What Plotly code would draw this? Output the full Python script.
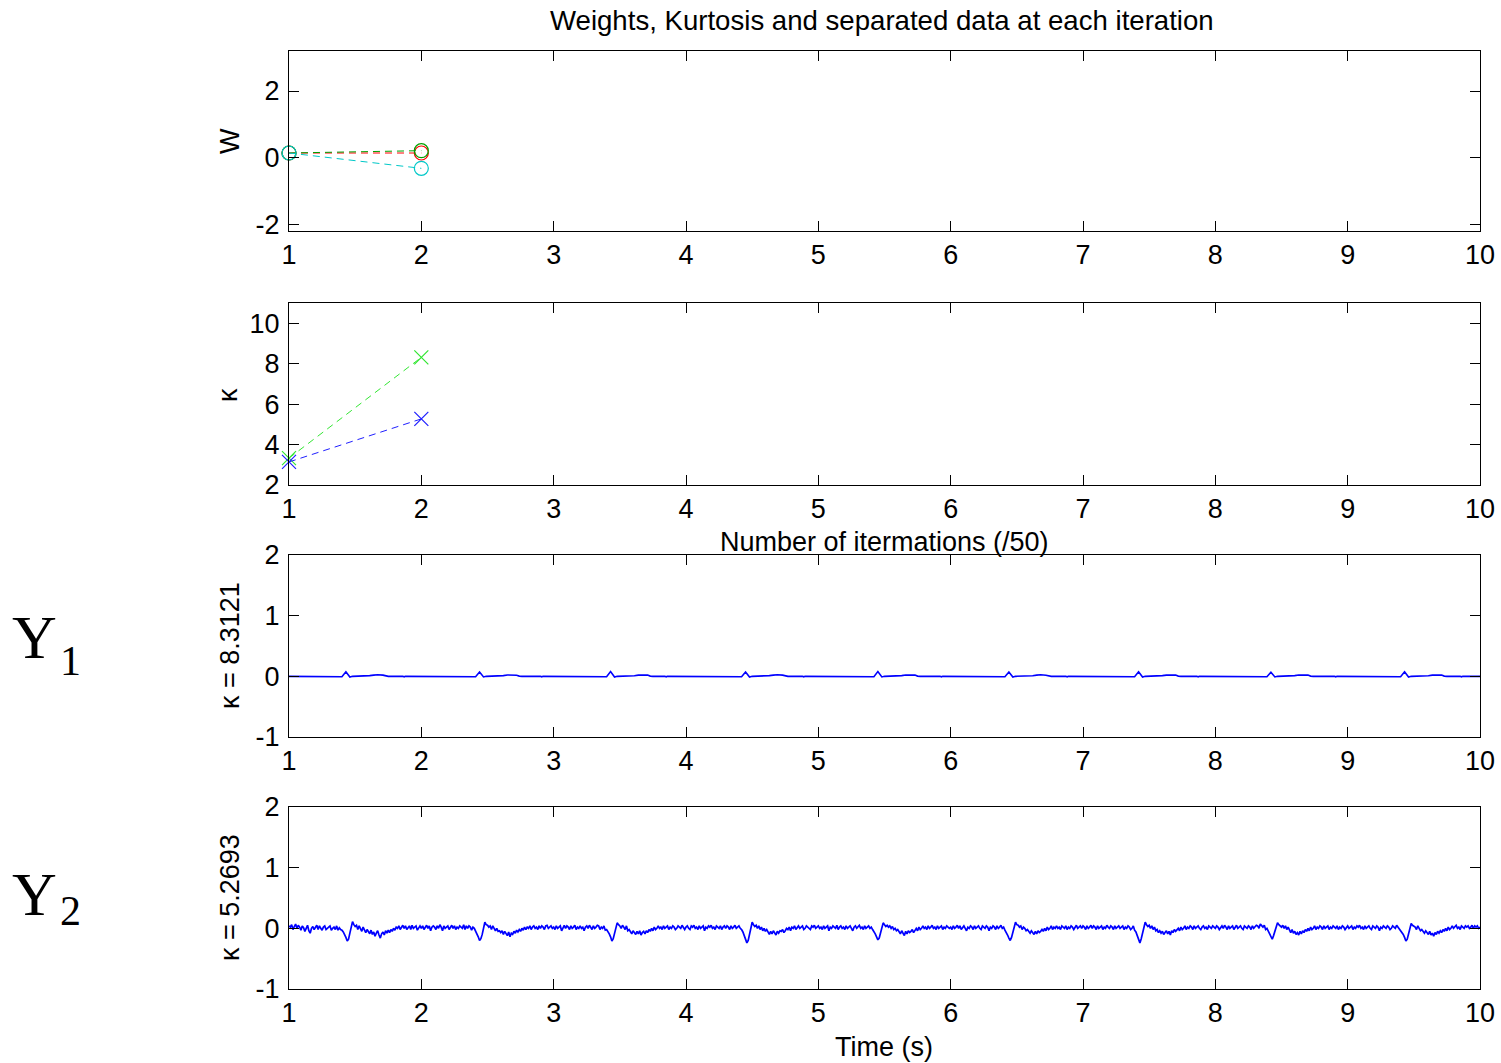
import numpy as np
import plotly.graph_objects as go

# ---------------- data ----------------
iters = [1, 2]
x_ticks = [1, 2, 3, 4, 5, 6, 7, 8, 9, 10]

# separating weights per iteration
w_red = [0.14, 0.14]
w_green = [0.14, 0.21]
w_cyan = [0.14, -0.32]

# kurtosis per iteration
kurt_green = [3.33, 8.3121]
kurt_blue = [3.14, 5.2693]

# separated source Y1 (breakpoints: time in s, amplitude)
y1_t = [1.00,
        1.08, 1.09, 1.10, 1.30, 1.31, 1.32, 1.38, 1.40, 1.43, 1.46, 1.48, 1.60, 1.61, 1.64, 1.67, 1.71, 1.73, 1.75, 1.86, 1.87, 1.88,
        2.06, 2.07, 2.08, 2.30, 2.31, 2.32, 2.39, 2.41, 2.44, 2.47, 2.49, 2.61, 2.62, 2.65, 2.68, 2.72, 2.74, 2.76, 2.90, 2.91, 2.92,
        3.10, 3.11, 3.12, 3.28, 3.29, 3.30, 3.38, 3.40, 3.43, 3.46, 3.48, 3.60, 3.61, 3.64, 3.67, 3.71, 3.73, 3.75, 3.84, 3.85, 3.86,
        4.05, 4.06, 4.07, 4.32, 4.33, 4.34, 4.40, 4.42, 4.45, 4.48, 4.50, 4.62, 4.63, 4.66, 4.69, 4.73, 4.75, 4.77, 4.88, 4.89, 4.90,
        5.12, 5.13, 5.14, 5.30, 5.31, 5.32, 5.40, 5.42, 5.45, 5.48, 5.50, 5.62, 5.63, 5.66, 5.69, 5.73, 5.75, 5.77, 5.92, 5.93, 5.94,
        6.08, 6.09, 6.10, 6.27, 6.28, 6.29, 6.39, 6.41, 6.44, 6.47, 6.49, 6.61, 6.62, 6.65, 6.68, 6.72, 6.74, 6.76, 6.87, 6.88, 6.89,
        7.04, 7.05, 7.06, 7.29, 7.30, 7.31, 7.37, 7.39, 7.42, 7.45, 7.47, 7.59, 7.60, 7.63, 7.66, 7.70, 7.72, 7.74, 7.86, 7.87, 7.88,
        8.10, 8.11, 8.12, 8.26, 8.27, 8.28, 8.37, 8.39, 8.42, 8.45, 8.47, 8.59, 8.60, 8.63, 8.66, 8.70, 8.72, 8.74, 8.90, 8.91, 8.92,
        9.07, 9.08, 9.09, 9.31, 9.32, 9.33, 9.38, 9.40, 9.43, 9.46, 9.48, 9.60, 9.61, 9.64, 9.67, 9.71, 9.73, 9.75, 9.85, 9.86, 9.87,
        10.00]
y1_v = [0.0,
        0, -.008, 0, 0, -.008, 0, 0, -.006, .075, -.012, 0, 0, .012, .020, .026, .020, .004, 0, 0, -.008, 0,
        0, -.008, 0, 0, -.008, 0, 0, -.006, .070, -.010, 0, 0, .012, .022, .024, .018, .004, 0, 0, -.008, 0,
        0, -.008, 0, 0, -.008, 0, 0, -.006, .080, -.012, 0, 0, .010, .020, .025, .020, .004, 0, 0, -.008, 0,
        0, -.008, 0, 0, -.008, 0, 0, -.006, .072, -.012, 0, 0, .012, .020, .026, .020, .004, 0, 0, -.008, 0,
        0, -.008, 0, 0, -.008, 0, 0, -.006, .078, -.010, 0, 0, .012, .022, .024, .020, .004, 0, 0, -.008, 0,
        0, -.008, 0, 0, -.008, 0, 0, -.006, .070, -.012, 0, 0, .010, .020, .026, .018, .004, 0, 0, -.008, 0,
        0, -.008, 0, 0, -.008, 0, 0, -.006, .074, -.012, 0, 0, .012, .020, .025, .020, .004, 0, 0, -.008, 0,
        0, -.008, 0, 0, -.008, 0, 0, -.006, .068, -.010, 0, 0, .012, .022, .026, .020, .004, 0, 0, -.008, 0,
        0, -.008, 0, 0, -.008, 0, 0, -.006, .076, -.012, 0, 0, .010, .020, .024, .020, .004, 0, 0, -.008, 0,
        0.0]

# separated source Y2, sampled every 10 ms, one list per second
y2_sec1 = [.04, .02, .06, -.02, .03, .07, .00, .05, .02, -.03, .04, .01, -.05, .02, .05, -.04, -.08, .00, .03, -.02,
           .02, .05, -.02, .04, .00, -.03, .02, .04, -.02, .01, .02, .04, -.03, .00, .02, -.02, .04, -.03, .01, -.02,
           -.03, -.06, -.10, -.15, -.21, -.18, -.08, .05, .11, .06, .03, .05, -.02, .04, .00, -.05, .02, -.04, -.07, -.02,
           -.05, -.09, -.03, -.10, -.06, -.13, -.08, -.04, -.11, -.16, -.09, -.06, -.11, -.04, -.08, -.03, -.07, -.02, -.05, .00,
           -.03, .02, .00, .04, -.02, .02, .05, .00, .04, -.02, .02, .04, -.02, .05, .00, .02, .04, -.03, .02, .04]
y2_sec2 = [.00, .04, -.02, .02, .05, .00, .04, -.04, .02, .04, .02, -.02, .04, .00, .06, .02, -.04, .04, .00, .02,
           .04, -.02, .02, .05, .00, .04, -.02, .02, .00, .04, .02, .00, .06, -.02, .04, .00, .04, .02, -.03, .02,
           .00, -.04, -.08, -.14, -.20, -.17, -.10, .02, .10, .06, .05, .02, .04, -.02, .04, .00, -.04, .00, -.05, -.04,
           -.07, -.04, -.10, -.05, -.08, -.12, -.06, -.14, -.08, -.10, -.05, -.08, -.03, -.06, -.02, -.05, .00, -.03, .02, -.02,
           .02, .00, .04, -.02, .02, .04, .00, .02, -.02, .04, .00, .04, .02, -.02, .04, .05, .00, .02, .04, .00]
y2_sec3 = [.02, -.02, .04, .00, .02, .04, -.04, .02, .05, .00, .04, .02, -.02, .04, .00, .02, .05, -.02, .02, .00,
           .04, .00, .02, -.04, .02, .04, .00, .05, .02, -.02, .04, .00, .02, .05, .04, -.02, .02, .00, .04, -.03,
           -.02, -.05, -.09, -.14, -.21, -.17, -.08, .03, .09, .06, .04, .00, .05, .02, -.02, .04, -.04, -.02, -.06, -.09,
           -.04, -.07, -.10, -.05, -.09, -.04, -.11, -.07, -.05, -.09, -.04, -.07, -.02, -.05, .00, -.04, .02, -.02, .00, .04,
           .00, .02, -.02, .04, .00, .02, .04, -.02, .02, .00, .04, .02, -.02, .00, .04, .02, .00, .05, .02, -.02]
y2_sec4 = [.02, .04, .00, -.02, .04, .02, .05, .00, .02, -.02, .04, .00, .02, .04, -.04, .02, .00, .04, .02, .05,
           .00, .02, -.02, .04, .02, .00, .04, -.02, .02, .04, .00, .04, .02, -.02, .04, .00, .02, .05, .00, .02,
           .04, .00, -.02, -.06, -.11, -.17, -.24, -.20, -.09, .04, .10, .06, .03, .05, .00, .04, -.02, .02, -.04, .00,
           -.05, -.02, -.07, -.10, -.05, -.09, -.04, -.07, -.11, -.05, -.08, -.04, -.05, -.02, -.07, -.04, .00, -.02, .02, -.04,
           .02, .00, .04, -.02, .02, .04, .00, .02, .04, -.02, .00, .04, .02, .00, -.02, .04, .02, .05, .00, .02]
y2_sec5 = [.04, .00, .02, -.02, .04, .00, .02, .04, -.04, .02, .00, .04, .02, .00, .05, -.02, .02, .04, .00, .02,
           -.02, .04, .00, .02, .04, .00, -.04, .02, .04, .00, .02, .05, .00, .02, -.02, .04, .00, .02, .04, .00,
           .02, -.02, -.05, -.09, -.14, -.19, -.16, -.08, .03, .09, .06, .03, .05, .02, .04, .00, .03, -.02, .00, -.04,
           -.02, -.05, -.09, -.04, -.07, -.12, -.05, -.09, -.04, -.07, -.05, -.02, -.07, -.04, .00, -.04, .02, -.02, .00, .04,
           .00, .02, -.02, .04, .00, .02, .05, .00, .02, -.02, .04, .00, .02, .04, -.02, .02, .00, .04, .02, .00]
y2_sec6 = [.02, -.02, .04, .00, .02, .05, .00, .04, -.02, .02, .04, .00, -.04, .02, .00, .04, .02, -.02, .04, .00,
           .02, .04, .00, -.02, .04, .02, .00, .04, .02, -.04, .02, .00, .04, .02, -.02, .04, .00, .02, .05, .00,
           .02, -.03, -.06, -.11, -.16, -.20, -.15, -.06, .05, .10, .06, .05, .02, .04, -.02, .02, .00, -.04, -.02, -.05,
           -.08, -.04, -.07, -.10, -.05, -.09, -.04, -.07, -.05, -.02, -.05, .00, -.04, .02, -.02, .00, .04, -.02, .02, .00,
           .04, .00, .02, -.02, .04, .02, .00, .04, -.02, .02, .00, .04, .02, -.02, .02, .05, .00, .02, .04, .00]
y2_sec7 = [.04, .02, -.02, .04, .00, .02, .05, .00, .04, .02, -.02, .04, .00, .02, .04, -.02, .02, .00, .05, .02,
           .00, .04, .02, -.02, .04, .00, .02, .04, .00, .02, .04, -.02, .02, .00, .04, .02, -.02, .00, .04, -.03,
           -.06, -.12, -.19, -.24, -.17, -.07, .04, .10, .06, .03, .05, .00, .04, -.02, .02, -.04, -.02, -.07, -.04, -.08,
           -.05, -.10, -.07, -.04, -.09, -.05, -.11, -.04, -.07, -.02, -.05, -.02, .00, -.04, .02, -.02, .00, .04, -.02, .02,
           .00, .04, .02, -.02, .04, .00, .02, .04, .00, -.02, .02, .04, .00, .02, -.02, .04, .02, .00, .04, .02]
y2_sec8 = [.00, .04, .02, -.02, .02, .04, .00, .05, .02, -.02, .04, .00, .02, .04, -.02, .02, .05, .00, .02, .04,
           .00, -.02, .04, .02, .00, .04, .02, -.02, .04, .00, .02, .05, .04, .00, .07, .04, .02, .05, -.02, .00,
           -.05, -.11, -.13, -.18, -.12, -.05, .05, .09, .06, .03, .02, .05, .00, .04, -.02, .02, -.04, -.07, -.02, -.08,
           -.05, -.10, -.07, -.11, -.05, -.09, -.04, -.07, -.02, -.05, .00, -.04, .02, -.02, .00, .04, -.02, .02, .00, .04,
           .02, -.02, .04, .00, .02, .04, -.02, .02, .00, .04, .02, .00, .04, -.02, .02, .00, .04, .02, -.02, .02]
y2_sec9 = [.04, .00, .02, .04, -.02, .02, .00, .04, .02, .05, .00, .02, -.02, .04, .00, .02, .04, .00, -.02, .04,
           .02, .00, .04, .02, -.04, .02, .00, .04, .02, .00, .04, .02, -.02, .00, .04, .02, .00, .05, .02, .00,
           -.02, -.05, -.10, -.15, -.21, -.18, -.09, .03, .08, .05, .04, .02, -.02, .04, .00, -.04, -.02, -.05, -.08, -.04,
           -.07, -.10, -.05, -.11, -.08, -.13, -.07, -.10, -.05, -.08, -.04, -.07, -.02, -.05, .00, -.04, .02, -.02, .00, .04,
           .00, .02, .05, .00, .02, -.02, .04, .02, .00, .04, .02, .04, .00, .02, .05, .00, .04, .02, .04, .00]
y2_end = [.02]

y2_v = (y2_sec1 + y2_sec2 + y2_sec3 + y2_sec4 + y2_sec5 + y2_sec6
        + y2_sec7 + y2_sec8 + y2_sec9 + y2_end)
fs = 100.0  # samples per second
y2_t = 1.0 + np.arange(len(y2_v)) / fs

# ---------------- figure ----------------
W, H = 1501, 1063
FONT = "Liberation Sans, Arial, Helvetica, sans-serif"
FS = 27


def px(x):
    return x / W


def py(y):
    return 1 - y / H


x_dom = [px(289), px(1480)]
y_doms = [[py(231), py(51)], [py(485), py(303)], [py(737), py(555)], [py(989), py(807)]]
y_ranges = [[-2.2, 3.2], [2, 11], [-1, 2], [-1, 2]]
y_tickvals = [[-2, 0, 2], [2, 4, 6, 8, 10], [-1, 0, 1, 2], [-1, 0, 1, 2]]

fig = go.Figure()

dash = "7px,5px"
# weights
fig.add_trace(go.Scatter(x=iters, y=w_red, mode="lines+markers", cliponaxis=False,
                         line=dict(color="#FF0000", width=1, dash=dash),
                         marker=dict(symbol="circle-open", size=14, color="#FF0000", line=dict(width=1.2)),
                         xaxis="x", yaxis="y"))
fig.add_trace(go.Scatter(x=iters, y=w_green, mode="lines+markers", cliponaxis=False,
                         line=dict(color="#00A000", width=1, dash=dash),
                         marker=dict(symbol="circle-open", size=14, color="#00A000", line=dict(width=1.2)),
                         xaxis="x", yaxis="y"))
fig.add_trace(go.Scatter(x=iters, y=w_cyan, mode="lines+markers", cliponaxis=False,
                         line=dict(color="#00C8C8", width=1, dash=dash),
                         marker=dict(symbol="circle-open", size=14, color="#00C8C8", line=dict(width=1.2)),
                         xaxis="x", yaxis="y"))

# kurtosis
fig.add_trace(go.Scatter(x=iters, y=kurt_green, mode="lines+markers", cliponaxis=False,
                         line=dict(color="#33E633", width=1, dash=dash),
                         marker=dict(symbol="x-thin-open", size=14, color="#33E633", line=dict(width=1.2, color="#33E633")),
                         xaxis="x2", yaxis="y2"))
fig.add_trace(go.Scatter(x=iters, y=kurt_blue, mode="lines+markers", cliponaxis=False,
                         line=dict(color="#2020FF", width=1, dash=dash),
                         marker=dict(symbol="x-thin-open", size=14, color="#2020FF", line=dict(width=1.2, color="#2020FF")),
                         xaxis="x2", yaxis="y2"))

# separated signals
fig.add_trace(go.Scatter(x=y1_t, y=y1_v, mode="lines",
                         line=dict(color="#0000FF", width=1.6), xaxis="x3", yaxis="y3"))
fig.add_trace(go.Scatter(x=y2_t, y=y2_v, mode="lines",
                         line=dict(color="#0000FF", width=1.7), xaxis="x4", yaxis="y4"))

axis_common = dict(showline=True, linecolor="black", linewidth=1, mirror="ticks",
                   ticks="inside", ticklen=10, tickcolor="black", tickwidth=1,
                   showgrid=False, zeroline=False, automargin=False,
                   tickfont=dict(family=FONT, size=FS, color="black"))

layout = dict(template="none", width=W, height=H, margin=dict(l=0, r=0, t=0, b=0, pad=0),
              paper_bgcolor="white", plot_bgcolor="white", showlegend=False)

for i in range(4):
    sfx = "" if i == 0 else str(i + 1)
    layout["xaxis" + sfx] = dict(axis_common, domain=x_dom, range=[1, 10],
                                 tickvals=x_ticks, ticktext=[str(v) for v in x_ticks],
                                 anchor="y" + sfx)
    layout["yaxis" + sfx] = dict(axis_common, domain=y_doms[i], range=y_ranges[i],
                                 tickvals=y_tickvals[i], ticktext=[str(v) for v in y_tickvals[i]],
                                 ticklabelstandoff=3, anchor="x" + sfx)

fig.update_layout(**layout)

texts = [
    ("Weights, Kurtosis and separated data at each iteration", 882, 20, 0, 27.6),
    ("Number of itermations (/50)", 884, 542, 0, 27),
    ("Time (s)", 884, 1047, 0, 27),
    ("W", 230, 141, -90, 27),
    ("κ", 228, 395, -90, 27),
    ("κ = 8.3121", 230, 646, -90, 27),
    ("κ = 5.2693", 230, 898, -90, 27),
]
for txt, x, y, ang, size in texts:
    fig.add_annotation(text=txt, x=px(x), y=py(y), xref="paper", yref="paper",
                       showarrow=False, textangle=ang,
                       font=dict(family=FONT, size=size, color="black"),
                       xanchor="center", yanchor="middle")

serif = "Liberation Serif, Times New Roman, serif"
for main, sub, y_main, y_sub in [("Y", "1", 637, 661), ("Y", "2", 894, 911)]:
    fig.add_annotation(text=main, x=px(34), y=py(y_main), xref="paper", yref="paper",
                       showarrow=False, font=dict(family=serif, size=62, color="black"),
                       xanchor="center", yanchor="middle")
    fig.add_annotation(text=sub, x=px(70), y=py(y_sub), xref="paper", yref="paper",
                       showarrow=False, font=dict(family=serif, size=42, color="black"),
                       xanchor="center", yanchor="middle")

fig.write_html("out.html")
